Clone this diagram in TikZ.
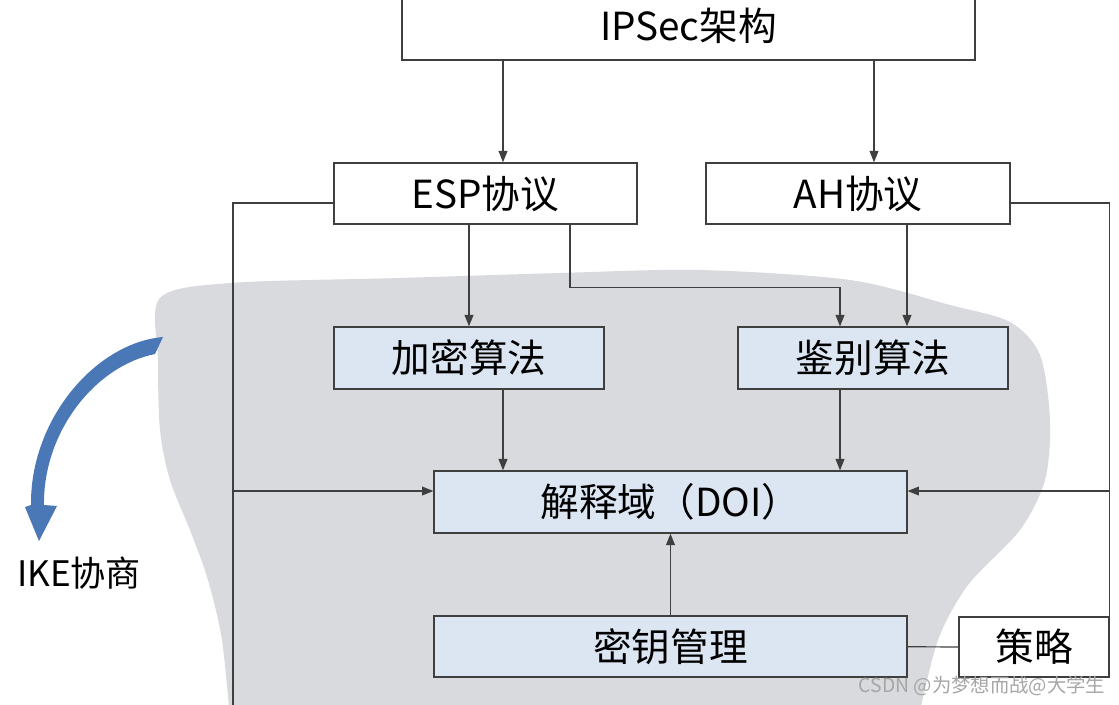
\documentclass[tikz,border=0pt]{standalone}
\usepackage{fontspec}
\setmainfont{Noto Sans CJK SC}
\usepackage{xcolor}
\usetikzlibrary{arrows.meta,positioning,calc}

\definecolor{boxblue}{HTML}{DCE6F2}
\definecolor{linegray}{HTML}{3F3F3F}
\definecolor{blobgray}{HTML}{D8DADD}
\definecolor{ikeblue}{HTML}{4A78B6}

\begin{document}
\begin{tikzpicture}[
    x=0.02cm, y=-0.02cm,
    box/.style={rectangle, draw=linegray, line width=0.7pt, fill=white, minimum height=1.22cm, inner sep=0pt, font=\fontsize{22}{26}\selectfont},
    algbox/.style={box, fill=boxblue, minimum height=1.24cm},
    arrow/.style={-{Triangle[length=6.5pt,width=5pt]}, draw=linegray, line width=0.7pt},
    bus/.style={draw=linegray, line width=0.7pt},
]
    \clip (0,0) rectangle (1119,704);
    \fill[white] (0,0) rectangle (1119,704);

    % IKE area
    \fill[blobgray] plot[smooth, tension=0.5] coordinates {
        (230,720) (222,640) (208,580) (190,530) (170,480) (160,430)
        (158,360) (160,298) (230,283) (400,278) (560,273) (700,270)
        (850,280) (950,305) (1010,322) (1040,355) (1050,420) (1045,480)
        (1020,530) (968,585) (938,640) (918,720)}
        -- cycle;

    % Boxes
    \node[box, minimum width=11.46cm, minimum height=1.36cm] (ipsec) at (688.5,26) {IPSec架构};
    \node[box, minimum width=6.06cm] (esp) at (485.5,193.5) {ESP协议};
    \node[box, minimum width=6.08cm] (ah) at (858,193.5) {AH协议};
    \node[algbox, minimum width=5.4cm] (jiami) at (469,358) {加密算法};
    \node[algbox, minimum width=5.4cm] (jianbie) at (873,358) {鉴别算法};
    \node[algbox, minimum width=9.46cm] (doi) at (670.5,502) {解释域（DOI）};
    \node[algbox, minimum width=9.46cm, minimum height=1.22cm] (miyao) at (670.5,646.5) {密钥管理};
    \node[box, minimum width=3cm, minimum height=1.2cm] (celue) at (1034,647) {策略};

    % Arrows
    \draw[arrow] ([xshift=0.35cm]esp.north |- ipsec.south) -- ([xshift=0.35cm]esp.north);
    \draw[arrow] ([xshift=0.32cm]ah.north |- ipsec.south) -- ([xshift=0.32cm]ah.north);
    \draw[arrow] (jiami.north |- esp.south) -- (jiami.north);
    \draw[arrow] ([xshift=1.69cm]esp.south) -- ++(0,63) -| ([xshift=-0.66cm]jianbie.north);
    \draw[arrow] ([xshift=0.68cm]jianbie.north |- ah.south) -- ([xshift=0.68cm]jianbie.north);
    \draw[arrow] ([xshift=0.68cm]jiami.south) -- ([xshift=0.68cm]jiami.south |- doi.north);
    \draw[arrow] ([xshift=-0.66cm]jianbie.south) -- ([xshift=-0.66cm]jianbie.south |- doi.north);
    \draw[arrow] (miyao) -- (doi);
    \draw[bus] (miyao) -- (celue);

    % Side lines
    \coordinate (leftend) at (233,720);
    \draw[bus] ([yshift=-0.19cm]esp.west) -| (leftend);
    \draw[arrow] ([yshift=0.22cm]doi.west -| leftend) -- ([yshift=0.22cm]doi.west);
    \draw[bus] ([yshift=-0.19cm]ah.east) -| (celue.north east);
    \draw[arrow] ([yshift=0.22cm]doi.east -| celue.east) -- ([yshift=0.22cm]doi.east);

    % IKE arrow
    \fill[ikeblue] (163,337) .. controls (95,343) and (30,420) .. (31,505)
        -- (25,507) -- (39,541) -- (57,506) -- (44,505)
        .. controls (43,432) and (95,366) .. (155,354) -- cycle;
    \node[font=\fontsize{20}{24}\selectfont] (ike) at (79,573) {IKE协商};

    % Watermark
    \node[font=\fontsize{11}{13}\selectfont, text=gray!70] (mark) at (982,686) {CSDN @为梦想而战@大学生};
\end{tikzpicture}
\end{document}
